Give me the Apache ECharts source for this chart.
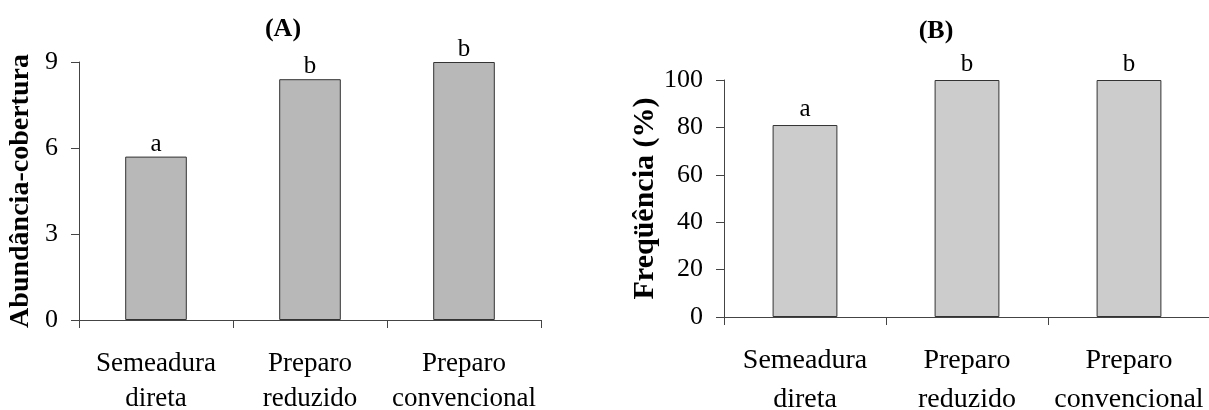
<!DOCTYPE html>
<html>
<head>
<meta charset="utf-8">
<script src="https://cdn.jsdelivr.net/npm/echarts@6/dist/echarts.min.js"></script>
<style>
  html, body { margin: 0; padding: 0; background: #fff; }
  #chart { width: 1209px; height: 410px; }
</style>
</head>
<body>
<div id="chart"></div>
<script>
// Tillage systems (shared categories)
const categories = ['Semeadura\ndireta', 'Preparo\nreduzido', 'Preparo\nconvencional'];

// (A) abundance-cover score per system
const abundance = [5.7, 8.4, 9.0];
const abundanceLetters = ['a', 'b', 'b'];

// (B) frequency (%) per system
const frequency = [81, 100, 100];
const frequencyLetters = ['a', 'b', 'b'];

const FONT = 'Liberation Serif';
const AXIS_COLOR = '#444';

const chart = echarts.init(document.getElementById('chart'), null, { renderer: 'canvas' });

// wraps every line of a label in a rich-text style so the serif face is used
function richLines(value) {
  return String(value).split('\n').map(s => '{t|' + s + '}').join('\n');
}

function xAxisFor(gridIndex, fontSize, lineHeight, margin) {
  return {
    type: 'category',
    gridIndex: gridIndex,
    data: categories,
    axisLine: { lineStyle: { color: AXIS_COLOR, width: 1 } },
    axisTick: { show: true, length: 8, lineStyle: { color: AXIS_COLOR } },
    axisLabel: {
      color: '#000', fontFamily: FONT, fontSize: fontSize,
      lineHeight: lineHeight, margin: margin, interval: 0,
      formatter: richLines,
      rich: { t: { fontFamily: FONT, fontSize: fontSize, lineHeight: lineHeight, color: '#000' } }
    }
  };
}

function yAxisFor(gridIndex, max, interval, name, nameSize, nameGap) {
  return {
    type: 'value',
    gridIndex: gridIndex,
    min: 0, max: max, interval: interval,
    name: name,
    nameLocation: 'middle',
    nameRotate: 90,
    nameGap: nameGap,
    nameTextStyle: { color: '#000', fontFamily: FONT, fontWeight: 'bold', fontSize: nameSize },
    axisLine: { show: true, lineStyle: { color: AXIS_COLOR, width: 1 } },
    axisTick: { show: true, length: 8, lineStyle: { color: AXIS_COLOR } },
    axisLabel: {
      color: '#000', fontFamily: FONT, fontSize: 26, margin: 21,
      formatter: richLines,
      rich: { t: { fontFamily: FONT, fontSize: 26, color: '#000' } }
    },
    splitLine: { show: false }
  };
}

function barSeries(idx, values, letters, fill, gap) {
  return {
    type: 'bar',
    xAxisIndex: idx, yAxisIndex: idx,
    barWidth: '40%',
    data: values,
    itemStyle: { color: fill, borderColor: '#333', borderWidth: 1 },
    label: {
      show: true, position: 'top', distance: gap,
      color: '#000', fontFamily: FONT, fontSize: 25,
      formatter: p => letters[p.dataIndex]
    },
    silent: true
  };
}

chart.setOption({
  animation: false,
  backgroundColor: '#fff',
  textStyle: { fontFamily: FONT },
  title: [
    { text: '(A)', left: 278, top: 11, textAlign: 'center',
      textStyle: { fontFamily: FONT, fontWeight: 'bold', fontSize: 26, color: '#000' } },
    { text: '(B)', left: 931, top: 13, textAlign: 'center',
      textStyle: { fontFamily: FONT, fontWeight: 'bold', fontSize: 26, color: '#000' } }
  ],
  grid: [
    { left: 79, top: 62, width: 462, height: 258, outerBoundsMode: 'none', containLabel: false },
    { left: 724, top: 80, width: 486, height: 237, outerBoundsMode: 'none', containLabel: false }
  ],
  xAxis: [
    xAxisFor(0, 27, 35, 26),
    xAxisFor(1, 28, 39, 24)
  ],
  yAxis: [
    yAxisFor(0, 9, 3, 'Abundância-cobertura', 28, 44),
    yAxisFor(1, 100, 20, 'Freqüência (%)', 30, 62)
  ],
  series: [
    barSeries(0, abundance, abundanceLetters, '#b8b8b8', 0),
    barSeries(1, frequency, frequencyLetters, '#cccccc', 3)
  ]
});
</script>
</body>
</html>
